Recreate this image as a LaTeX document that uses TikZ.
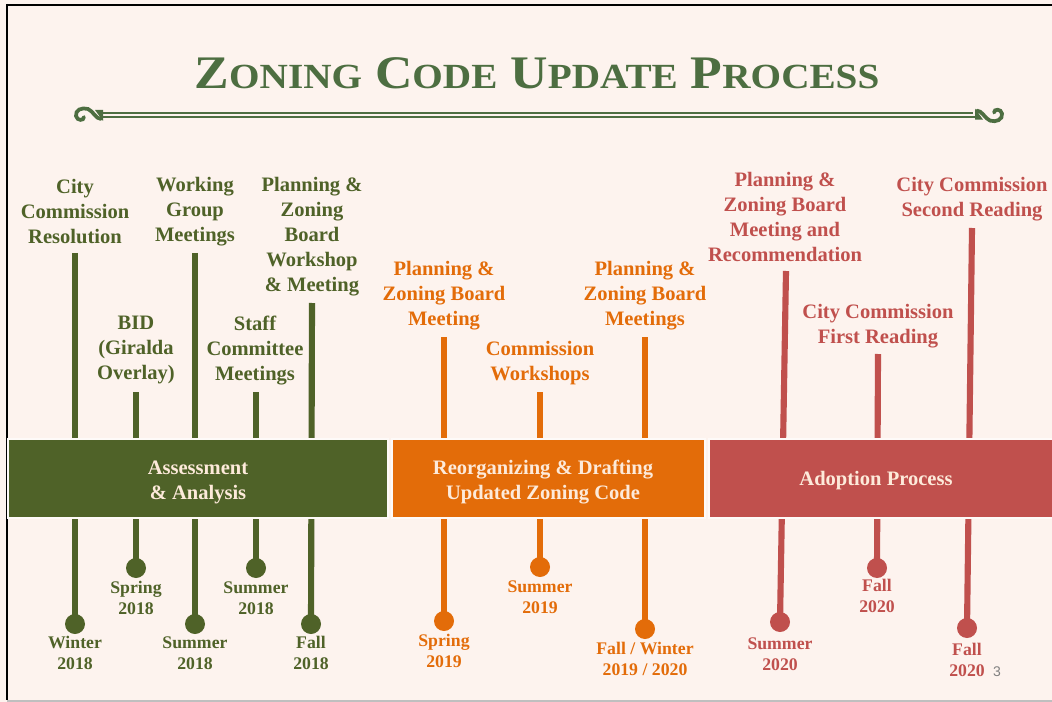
\documentclass[tikz,border=0pt]{standalone}
\usepackage{fontspec}
\setmainfont{Liberation Serif}
\setsansfont{Liberation Sans}
\definecolor{bg}{HTML}{FDF3EE}
\definecolor{grn}{HTML}{4F6228}
\definecolor{ttl}{HTML}{4D6E41}
\definecolor{org}{HTML}{E36C09}
\definecolor{rd}{HTML}{C0504D}
\definecolor{bartext}{HTML}{FDEADA}
\newcommand\smc[1]{{\fontsize{26.5}{30}\selectfont #1}}

\begin{document}
\begin{tikzpicture}[x=0.75pt, y=-0.75pt,
  lbl/.style={font=\fontsize{15.4}{18.75}\selectfont\bfseries, align=center, inner sep=0pt},
  date/.style={font=\fontsize{13.3}{15.6}\selectfont\bfseries, align=center, inner sep=0pt},
  stem/.style={line width=4.6pt},
  dot/.style={circle, fill, inner sep=0pt, minimum size=15pt},
  bar/.style={draw=white!60!bg, line width=1pt},
  bartxt/.style={font=\fontsize{15.4}{18.75}\selectfont\bfseries, align=center, text=bartext},
  orn/.style={line width=2.8pt, ttl, line cap=round}]
\useasboundingbox (0,0) rectangle (1052,702);
\fill[bg] (0,0) rectangle (1052,702);
% frame
\draw[line width=1.9pt] (7,5) -- (1052,5);
\draw[line width=1.9pt] (7,4) -- (7,700);
\draw[gray!50, line width=1.2pt] (7,701) -- (1052,701);

% title
\node[text=ttl, font=\fontsize{35}{40}\selectfont\bfseries] (title) at (537,73)
  {\scalebox{1.11}[1]{Z\smc{ONING} C\smc{ODE} U\smc{PDATE} P\smc{ROCESS}}};
\draw[ttl, line width=1.5pt] (103,112.7) -- (973,112.7);
\draw[ttl, line width=1.7pt] (103,116.8) -- (975,116.8);
\draw[orn] (84,117) .. controls (84,121) and (77,121) .. (76,116) .. controls (75,110) and (82,107) .. (88,109) .. controls (93,111) and (96,119) .. (101,119);
\fill[ttl] (95,110) -- (103,110) -- (103,121) -- cycle;
\begin{scope}[rotate around={180:(539,114.8)}]
\draw[orn] (84,117) .. controls (84,121) and (77,121) .. (76,116) .. controls (75,110) and (82,107) .. (88,109) .. controls (93,111) and (96,119) .. (101,119);
\fill[ttl] (95,110) -- (103,110) -- (103,121) -- cycle;
\end{scope}

% assessment
\foreach \i/\lx/\ly/\txt/\tx/\ty/\dx/\dy/\dtxt/\dly in {
  1/75/212/{City\\Commission\\Resolution}/75/253/75/624/{Winter\\2018}/653,
  2/136/350/{BID\\(Giralda\\Overlay)}/136/392/136/568/{Spring\\2018}/598,
  3/195/212/{Working\\Group\\Meetings}/195/253/195/624/{Summer\\2018}/653,
  4/255/351/{Staff\\Committee\\Meetings}/256/392/256/568/{Summer\\2018}/598,
  5/312/237/{Planning \&\\Zoning\\Board\\Workshop\\\& Meeting}/312/303/311/624/{Fall\\2018}/653}
{
  \node[lbl, text=grn] (ga\i) at (\lx,\ly) {\txt};
  \coordinate (gt\i) at (\tx,\ty);
  \node[dot, grn] (gd\i) at (\dx,\dy) {};
  \node[date, text=grn] (gw\i) at (\dx,\dly) {\dtxt};
  \draw[stem, grn] (gt\i) -- (gd\i.center);
}

% drafting
\foreach \i/\lx/\ly/\txt/\tx/\ty/\dx/\dy/\dtxt/\dly in {
  1/444/296/{Planning \&\\Zoning Board\\Meeting}/444/337/444/621/{Spring\\2019}/651,
  2/540/363/{Commission\\Workshops}/540/392/540/567/{Summer\\2019}/597,
  3/645/296/{Planning \&\\Zoning Board\\Meetings}/645/337/645/629/{Fall / Winter\\2019 / 2020}/659}
{
  \node[lbl, text=org] (oa\i) at (\lx,\ly) {\txt};
  \coordinate (ot\i) at (\tx,\ty);
  \node[dot, org] (od\i) at (\dx,\dy) {};
  \node[date, text=org] (ow\i) at (\dx,\dly) {\dtxt};
  \draw[stem, org] (ot\i) -- (od\i.center);
}

% adoption
\foreach \i/\lx/\ly/\txt/\tx/\ty/\dx/\dy/\dtxt/\dly in {
  1/785/217/{Planning \&\\Zoning Board\\Meeting and\\Recommendation}/786/271/780/622/{Summer\\2020}/654,
  2/878/326/{City Commission\\First Reading}/878/354/877/568/{Fall\\2020}/596,
  3/972/199/{City Commission\\Second Reading}/972/228/967/628/{Fall\\2020}/660}
{
  \node[lbl, text=rd] (ra\i) at (\lx,\ly) {\txt};
  \coordinate (rt\i) at (\tx,\ty);
  \node[dot, rd] (rd\i) at (\dx,\dy) {};
  \node[date, text=rd] (rw\i) at (\dx,\dly) {\dtxt};
  \draw[stem, rd] (rt\i) -- (rd\i.center);
}

% phase bars
\draw[bar, fill=grn] (8,439) rectangle (388,518);
\draw[bar, fill=org] (392,439) rectangle (705,518);
\draw[bar, fill=rd] (709,439) rectangle (1053,518);
\node[bartxt] (assess) at (198,482) {Assessment\\\& Analysis};
\node[bartxt] (draft) at (543,482) {Reorganizing \& Drafting\\Updated Zoning Code};
\node[bartxt] (adopt) at (876,481) {Adoption Process};

\node[font=\sffamily\fontsize{10.5}{12}\selectfont, text=gray] (page) at (997,672) {3};
\end{tikzpicture}
\end{document}
